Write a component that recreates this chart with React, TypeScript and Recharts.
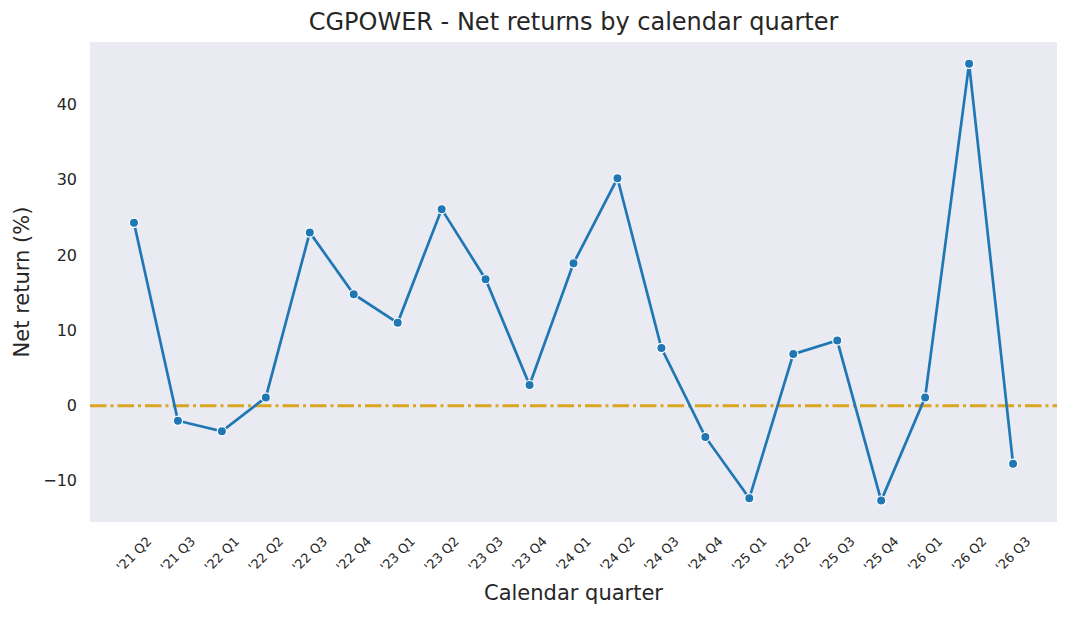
import React from 'react';
import { LineChart, Line, XAxis, YAxis, CartesianGrid, ReferenceLine } from 'recharts';

const quarters = ["'21 Q2", "'21 Q3", "'22 Q1", "'22 Q2", "'22 Q3", "'22 Q4", "'23 Q1", "'23 Q2", "'23 Q3", "'23 Q4", "'24 Q1", "'24 Q2", "'24 Q3", "'24 Q4", "'25 Q1", "'25 Q2", "'25 Q3", "'25 Q4", "'26 Q1", "'26 Q2", "'26 Q3"];
const netReturns = [24.3, -2.0, -3.4, 1.1, 23.0, 14.8, 11.0, 26.1, 16.8, 2.75, 18.9, 30.2, 7.65, -4.15, -12.3, 6.85, 8.65, -12.6, 1.1, 45.4, -7.7];
const yTicks = [-10, 0, 10, 20, 30, 40];

const data = quarters.map((q, i) => ({ idx: i, quarter: q, value: netReturns[i] }));
const xTicks = quarters.map((_, i) => i);

const FONT = '"DejaVu Sans", Verdana, sans-serif';
const TEXT = '#262626';

const XTick = (props: any) => {
  const { x, y, payload } = props;
  const cy = y + 32;
  return (
    <text x={x} y={cy} textAnchor="middle" dominantBaseline="central" fontSize={13} fill={TEXT} fontFamily={FONT} transform={`rotate(-45, ${x}, ${cy})`}>
      {quarters[payload.value]}
    </text>
  );
};

const YTick = (props: any) => {
  const { y, payload } = props;
  const v = payload.value;
  const label = v < 0 ? `\u2212${Math.abs(v)}` : `${v}`;
  return (
    <text x={77} y={y} textAnchor="end" dominantBaseline="central" fontSize={16} fill={TEXT} fontFamily={FONT}>
      {label}
    </text>
  );
};

export default function App() {
  return (
    <div style={{ position: 'absolute', left: 0, top: 0, width: 1069, height: 617, background: '#fff' }}>
      <LineChart width={1069} height={617} data={data} margin={{ top: 42, right: 12, left: 0, bottom: 0 }}>
        <CartesianGrid fill="#eaeaf2" stroke="none" horizontal={false} vertical={false} />
        <XAxis
          dataKey="idx"
          type="number"
          domain={[-1, 21]}
          ticks={xTicks}
          interval={0}
          height={95}
          axisLine={false}
          tickLine={false}
          tickSize={0}
          tickMargin={0}
          tick={<XTick />}
          label={{
            content: (p: any) => {
              const vb = p.viewBox || {};
              return (
                <text x={vb.x + vb.width / 2} y={vb.y + 71} textAnchor="middle" dominantBaseline="central" fontSize={21} fill={TEXT} fontFamily={FONT}>
                  Calendar quarter
                </text>
              );
            },
          }}
        />
        <YAxis
          type="number"
          domain={[-15.45, 48.3]}
          ticks={yTicks}
          allowDataOverflow
          width={90}
          axisLine={false}
          tickLine={false}
          tick={<YTick />}
          label={{
            content: (p: any) => {
              const vb = p.viewBox || {};
              const cy = vb.y + vb.height / 2;
              return (
                <text x={22} y={cy} textAnchor="middle" dominantBaseline="central" fontSize={21} fill={TEXT} fontFamily={FONT} transform={`rotate(-90, 22, ${cy})`}>
                  Net return (%)
                </text>
              );
            },
          }}
        />
        <ReferenceLine y={0} stroke="#daa520" strokeWidth={3} strokeDasharray="16.5 4 3 4" />
        <Line
          dataKey="value"
          type="linear"
          stroke="#1f77b4"
          strokeWidth={2.7}
          dot={{ r: 4.6, fill: '#1f77b4', stroke: '#ffffff', strokeWidth: 1.2 }}
          activeDot={false}
          isAnimationActive={false}
        />
      </LineChart>
      <svg width={1069} height={42} style={{ position: 'absolute', left: 0, top: 0, pointerEvents: 'none' }}>
        <text x={573.5} y={30} textAnchor="middle" fontSize={24} fill={TEXT} fontFamily={FONT}>
          CGPOWER - Net returns by calendar quarter
        </text>
      </svg>
    </div>
  );
}
